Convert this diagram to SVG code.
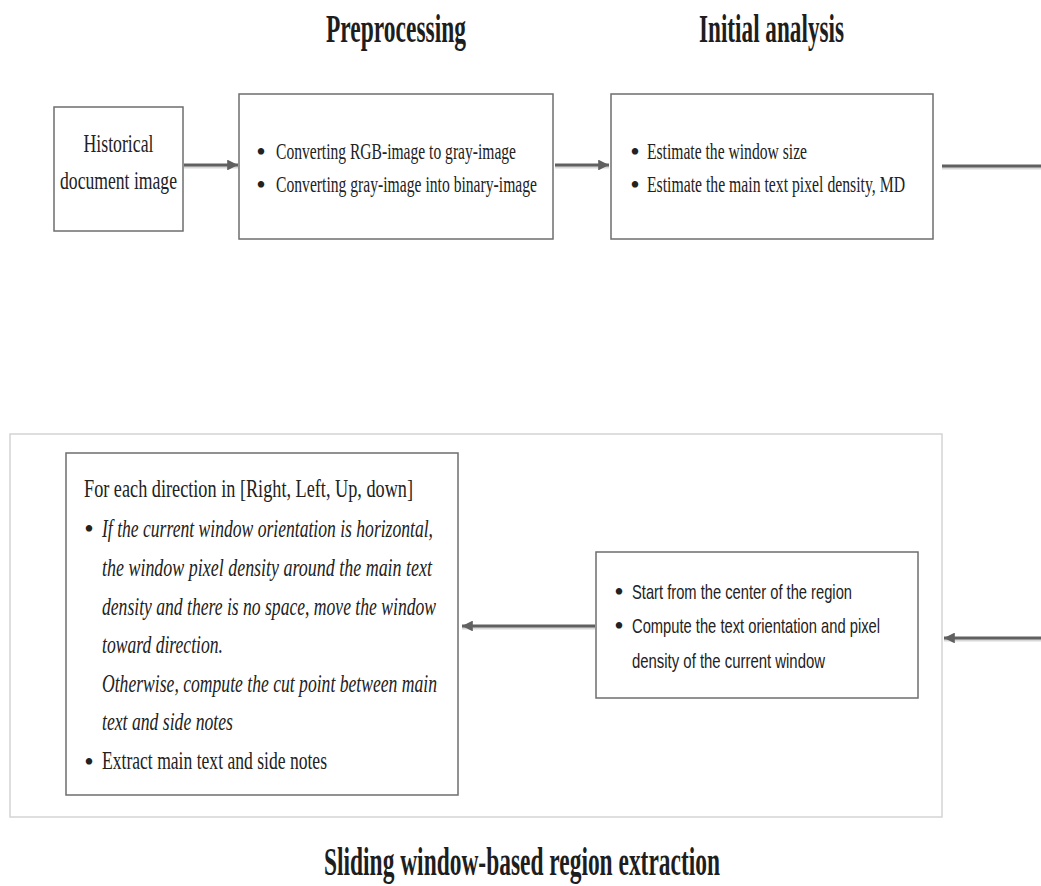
<svg xmlns="http://www.w3.org/2000/svg" width="1041" height="886" viewBox="0 0 1041 886">
<defs>
<marker id="ah" viewBox="0 0 10 10" refX="10" refY="5" markerWidth="4.4" markerHeight="3.6" markerUnits="strokeWidth" orient="auto">
<path d="M0,0 L10,5 L0,10 z" fill="#606060"/>
</marker>
</defs>
<style>
.box{fill:#fff;stroke:#6e6e6e;stroke-width:1.5}
.frame{fill:none;stroke:#d4d4d4;stroke-width:1.5}
.title{font-family:"Liberation Serif",serif;font-weight:bold;font-size:41px;fill:#1e1e1e}
.t{font-family:"Liberation Serif",serif;font-size:23px;fill:#222}
.ti{font-family:"Liberation Serif",serif;font-size:25px;font-style:italic;fill:#222}
.tl{font-family:"Liberation Serif",serif;font-size:25px;fill:#222}
.ts{font-family:"Liberation Sans",sans-serif;font-size:21px;fill:#222}
.b{font-family:"Liberation Serif",serif;font-size:27px;fill:#222;text-anchor:middle}
.c{fill:none;stroke:#606060;stroke-width:3}
.sh{fill:none;stroke:#d8d8d8;stroke-width:3}
</style>
<rect width="1041" height="886" fill="#fff"/>

<g id="titles">
<text class="title" x="326" y="42" textLength="140" lengthAdjust="spacingAndGlyphs">Preprocessing</text>
<text class="title" x="699" y="42" textLength="145" lengthAdjust="spacingAndGlyphs">Initial analysis</text>
<text class="title" x="324" y="875" textLength="396" lengthAdjust="spacingAndGlyphs">Sliding window-based region extraction</text>
</g>

<g id="sliding-frame">
<rect class="frame" x="10" y="434" width="932" height="383"/>
</g>

<g id="connectors">
<line class="sh" x1="184" y1="167" x2="238" y2="167"/>
<line class="c" x1="184" y1="165" x2="238" y2="165" marker-end="url(#ah)"/>
<line class="sh" x1="555" y1="167" x2="609" y2="167"/>
<line class="c" x1="555" y1="165" x2="609" y2="165" marker-end="url(#ah)"/>
<line class="sh" x1="942" y1="168" x2="1041" y2="168"/>
<line class="c" x1="942" y1="166" x2="1041" y2="166"/>
<line class="sh" x1="1041" y1="640" x2="944" y2="640"/>
<line class="c" x1="1041" y1="638" x2="944" y2="638" marker-end="url(#ah)"/>
<line class="sh" x1="595" y1="628" x2="462" y2="628"/>
<line class="c" x1="595" y1="626" x2="462" y2="626" marker-end="url(#ah)"/>
</g>

<g id="historical">
<rect class="box" x="54" y="107" width="129" height="124"/>
<text class="tl" x="118.5" y="152" text-anchor="middle" textLength="70" lengthAdjust="spacingAndGlyphs">Historical</text>
<text class="tl" x="118.5" y="189" text-anchor="middle" textLength="117" lengthAdjust="spacingAndGlyphs">document image</text>
</g>

<g id="preprocessing">
<rect class="box" x="239" y="94" width="314" height="145"/>
<text class="b" x="261" y="161">•</text>
<text class="t" x="276" y="159" textLength="240" lengthAdjust="spacingAndGlyphs">Converting RGB-image to gray-image</text>
<text class="b" x="261" y="194">•</text>
<text class="t" x="276" y="192" textLength="261" lengthAdjust="spacingAndGlyphs">Converting gray-image into binary-image</text>
</g>

<g id="initial-analysis">
<rect class="box" x="611" y="94" width="322" height="145"/>
<text class="b" x="635" y="161">•</text>
<text class="t" x="647" y="159" textLength="160" lengthAdjust="spacingAndGlyphs">Estimate the window size</text>
<text class="b" x="635" y="194">•</text>
<text class="t" x="647" y="192" textLength="258" lengthAdjust="spacingAndGlyphs">Estimate the main text pixel density, MD</text>
</g>

<g id="start-center">
<rect class="box" x="596" y="552" width="322" height="146"/>
<text class="b" x="619" y="601">•</text>
<text class="ts" x="632" y="599" textLength="220" lengthAdjust="spacingAndGlyphs">Start from the center of the region</text>
<text class="b" x="619" y="635">•</text>
<text class="ts" x="632" y="633" textLength="248" lengthAdjust="spacingAndGlyphs">Compute the text orientation and pixel</text>
<text class="ts" x="632" y="668" textLength="193" lengthAdjust="spacingAndGlyphs">density of the current window</text>
</g>

<g id="direction-loop">
<rect class="box" x="66" y="453" width="392" height="342"/>
<text class="tl" x="84" y="497" textLength="329" lengthAdjust="spacingAndGlyphs">For each direction in [Right, Left, Up, down]</text>
<text class="b" x="89" y="538">•</text>
<text class="ti" x="102" y="537" textLength="331" lengthAdjust="spacingAndGlyphs">If the current window orientation is horizontal,</text>
<text class="ti" x="102" y="576" textLength="330" lengthAdjust="spacingAndGlyphs">the window pixel density around the main text</text>
<text class="ti" x="102" y="615" textLength="334" lengthAdjust="spacingAndGlyphs">density and there is no space, move the window</text>
<text class="ti" x="102" y="653" textLength="121" lengthAdjust="spacingAndGlyphs">toward direction.</text>
<text class="ti" x="102" y="692" textLength="335" lengthAdjust="spacingAndGlyphs">Otherwise, compute the cut point between main</text>
<text class="ti" x="102" y="730" textLength="131" lengthAdjust="spacingAndGlyphs">text and side notes</text>
<text class="b" x="89" y="771">•</text>
<text class="tl" x="102" y="769" textLength="225" lengthAdjust="spacingAndGlyphs">Extract main text and side notes</text>
</g>
</svg>
